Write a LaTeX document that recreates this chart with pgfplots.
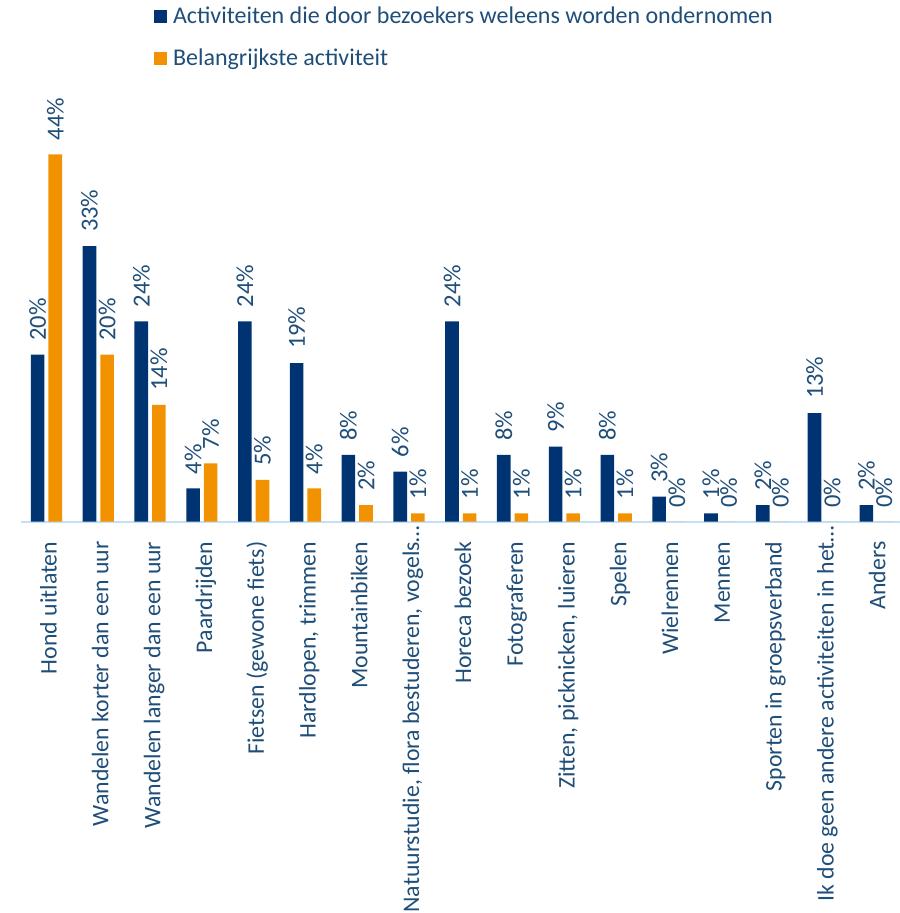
\documentclass[border=0pt]{standalone}
\usepackage{fontspec}
\setmainfont{Carlito}
\usepackage{pgfplots}
\pgfplotsset{compat=1.18}
\definecolor{navy}{HTML}{003372}
\definecolor{orng}{HTML}{F39200}
\definecolor{txt}{HTML}{1F4E79}
\definecolor{basec}{HTML}{C5DFF5}

\begin{document}
\begin{tikzpicture}
\begin{axis}[
  scale only axis, width=880.4pt, height=417.5pt,
  ymin=0, ymax=50, xmin=-0.5, xmax=16.5,
  enlargelimits=false,
  ybar=4pt, bar width=13.6pt,
  axis x line*=bottom, axis y line=none,
  x axis line style={draw=basec, line width=2pt},
  xtick={0,...,16},
  xticklabels={Hond uitlaten, Wandelen korter dan een uur, Wandelen langer dan een uur, Paardrijden, Fietsen (gewone fiets), {Hardlopen, trimmen}, Mountainbiken, {Natuurstudie, flora bestuderen, vogels…\kern-16pt}, Horeca bezoek, Fotograferen, {Zitten, picknicken, luieren}, Spelen, Wielrennen, Mennen, Sporten in groepsverband, Ik doe geen andere activiteiten in het…\kern-16pt, Anders},
  xtick style={draw=none},
  xticklabel style={rotate=90, anchor=east, inner sep=0pt, text height=22pt, text depth=1.6pt, font=\fontsize{23.8}{28}\selectfont, text=txt},
  xticklabel shift=15.5pt,
  ytick=\empty,
  clip=false,
  nodes near coords={\pgfmathprintnumber[assume math mode=true]{\pgfplotspointmeta}\%},
  every node near coord/.append style={rotate=90, anchor=west, inner xsep=14pt, inner ysep=0pt, font=\fontsize{24.5}{28}\selectfont, text=txt},
  legend cell align=left,
  legend style={at={(axis description cs:0,1)}, anchor=north west, xshift=133.4pt, yshift=99.2pt, draw=none, fill=none, inner sep=0pt, outer sep=0pt, row sep=18.7pt, column sep=6pt, nodes={inner sep=0pt, text height=19pt, text depth=4pt, font=\fontsize{24}{28}\selectfont, text=txt}},
  legend image code/.code={\fill[#1,draw=none] (0pt,-6.5pt) rectangle (13pt,6.5pt);},
]
\addplot[fill=navy, draw=none] coordinates {(0,20) (1,33) (2,24) (3,4) (4,24) (5,19) (6,8) (7,6) (8,24) (9,8) (10,9) (11,8) (12,3) (13,1) (14,2) (15,13) (16,2)};
\addplot[fill=orng, draw=none] coordinates {(0,44) (1,20) (2,14) (3,7) (4,5) (5,4) (6,2) (7,1) (8,1) (9,1) (10,1) (11,1) (12,0) (13,0) (14,0) (15,0) (16,0)};
\legend{Activiteiten die door bezoekers weleens worden ondernomen, Belangrijkste activiteit}
\coordinate (axO) at (rel axis cs:0,0);
\coordinate (axT) at (rel axis cs:1,1);
\end{axis}
\pgfresetboundingbox
\path ([xshift=-20.6pt,yshift=-391.3pt]axO) rectangle ([xshift=-2pt,yshift=104.2pt]axT);
\end{tikzpicture}
\end{document}
